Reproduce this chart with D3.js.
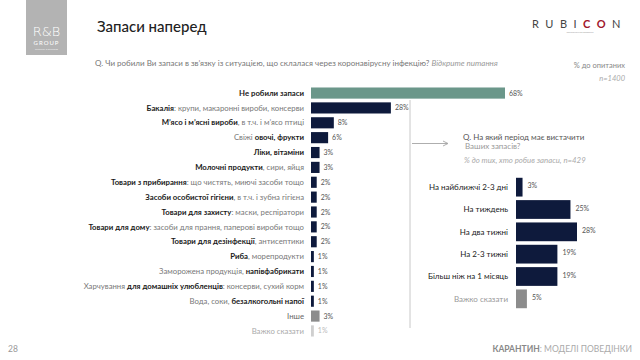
<!DOCTYPE html>
<html><head><meta charset="utf-8">
<script src="https://cdn.jsdelivr.net/npm/d3@7"></script>
<style>
body{margin:0;background:#fff;}
svg{font-family:Lato,"Open Sans",sans-serif;}
</style></head>
<body>
<svg id="c" width="640" height="360"></svg>
<script>
// Left chart: segments separated by "|"; "*" prefix marks a bold segment
const leftCategories = [
  "*Не робили запаси",
  "*Бакалія|: крупи, макаронні вироби, консерви",
  "*М’ясо і м’ясні вироби|, в т.ч. і м’ясо птиці",
  "Свіжі |*овочі, фрукти",
  "*Ліки, вітаміни",
  "*Молочні продукти|, сири, яйця",
  "*Товари з прибирання|: що чистять, миючі засоби тощо",
  "*Засоби особистої гігієни|, в т.ч. і зубна гігієна",
  "*Товари для захисту|: маски, респіратори",
  "*Товари для дому|: засоби для прання, паперові вироби тощо",
  "*Товари для дезінфекції|, антисептики",
  "*Риба|, морепродукти",
  "Заморожена продукція, |*напівфабрикати",
  "Харчування |*для домашніх улюбленців|: консерви, сухий корм",
  "Вода, соки, |*безалкогольні напої",
  "Інше",
  "Важко сказати"
];
const leftValues = [68, 28, 8, 6, 3, 3, 2, 2, 2, 2, 2, 1, 1, 1, 1, 3, 1];
const leftTypes  = ["none","main","main","main","main","main","main","main","main","main","main","main","main","main","main","other","dk"];

const rightCategories = ["На найближчі 2-3 дні","На тиждень","На два тижні","На 2-3 тижні","Більш ніж на 1 місяць","Важко сказати"];
const rightValues = [3, 25, 28, 19, 19, 5];
const rightTypes  = ["main","main","main","main","main","dk"];

const colors = {none:"#6b978a", main:"#0e1a3c", other:"#8c8c8c", dk:"#cfcfcf"};

const svg = d3.select("#c");

// Header
svg.append("rect").attr("x",26).attr("y",0).attr("width",41).attr("height",55).attr("fill","#b3b3b3");
svg.append("text").attr("x",46.5).attr("y",36).attr("text-anchor","middle").attr("fill","#fff")
  .attr("font-size",13).attr("font-family","DejaVu Sans").attr("font-weight","300").text("R&B");
svg.append("text").attr("x",46.5).attr("y",45).attr("text-anchor","middle").attr("fill","#fff")
  .attr("font-size",6).attr("letter-spacing",1).text("GROUP");
svg.append("text").attr("x",46.5).attr("y",50).attr("text-anchor","middle").attr("fill","#eee")
  .attr("font-size",2.5).text("Research & Branding");

svg.append("text").attr("x",97).attr("y",32).attr("font-size",15).attr("fill","#222").attr("font-weight","500").text("Запаси наперед");

const rub = svg.append("text").attr("x",627).attr("y",28).attr("text-anchor","end").attr("font-size",11).attr("letter-spacing",6.5).attr("fill","#444");
rub.append("tspan").text("RUBI");
rub.append("tspan").attr("fill","#a0152b").attr("font-weight","bold").text("CO");
rub.append("tspan").text("N");
svg.append("text").attr("x",580).attr("y",33).attr("text-anchor","middle").attr("font-size",2.5).attr("fill","#999").text("дослідницька компанія");

const sub = svg.append("text").attr("x",95).attr("y",66).attr("font-size",8).attr("fill","#777");
sub.append("tspan").text("Q. Чи робили Ви запаси в зв’язку із ситуацією, що склалася через коронавірусну інфекцію? ");
sub.append("tspan").attr("font-style","italic").attr("fill","#999").text("Відкрите питання");

svg.append("text").attr("x",625).attr("y",68).attr("text-anchor","end").attr("font-size",7.5).attr("fill","#888").text("% до опитаних");
svg.append("text").attr("x",625).attr("y",81).attr("text-anchor","end").attr("font-size",7.5).attr("font-style","italic").attr("fill","#aaa").text("n=1400");

// Left chart
const xL = d3.scaleLinear().domain([0,68]).range([311,505]);
const yL = d3.scaleBand().domain(d3.range(leftCategories.length)).range([86,338]).paddingInner(0.25).paddingOuter(0.1);

const gL = svg.append("g");
gL.selectAll("rect").data(leftValues).join("rect")
  .attr("x",xL(0)).attr("y",(d,i)=>yL(i)).attr("width",d=>xL(d)-xL(0)).attr("height",yL.bandwidth())
  .attr("fill",(d,i)=>colors[leftTypes[i]]);
gL.selectAll("text.v").data(leftValues).join("text").attr("class","v")
  .attr("x",d=>xL(d)+4).attr("y",(d,i)=>yL(i)+yL.bandwidth()/2+2.5)
  .attr("font-size",7).attr("fill",(d,i)=>leftTypes[i]==="dk"?"#bbb":"#555").text(d=>d+"%");

leftCategories.forEach((c,i)=>{
  const t = gL.append("text").attr("x",304).attr("y",yL(i)+yL.bandwidth()/2+2.7).attr("text-anchor","end").attr("font-size",7.75);
  c.split("|").forEach(seg=>{
    const bold = seg.startsWith("*");
    const s = bold?seg.slice(1):seg;
    t.append("tspan").text(s).attr("font-weight",bold?"bold":"normal")
      .attr("fill", leftTypes[i]==="dk" ? "#aaa" : (bold ? "#1a1a1a" : "#777"));
  });
  if(leftTypes[i]==="other") t.selectAll("tspan").attr("fill","#666");
});

// Separator & arrow
svg.append("line").attr("x1",410).attr("x2",410).attr("y1",100).attr("y2",328).attr("stroke","#c8c8c8").attr("stroke-width",1);
svg.append("line").attr("x1",412).attr("x2",447).attr("y1",143.5).attr("y2",143.5).attr("stroke","#999").attr("stroke-width",0.8);
svg.append("path").attr("d","M443,141 L448,143.5 L443,146").attr("fill","none").attr("stroke","#999").attr("stroke-width",0.8);

svg.append("text").attr("x",463).attr("y",140).attr("font-size",8).attr("fill","#555").text("Q. На який період має вистачити");
svg.append("text").attr("x",465).attr("y",149).attr("font-size",8).attr("fill","#999").text("Ваших запасів?");
svg.append("text").attr("x",464).attr("y",163).attr("font-size",7.8).attr("font-style","italic").attr("fill","#aaa").text("% до тих, хто робив запаси, n=429");

// Right chart
const xR = d3.scaleLinear().domain([0,28]).range([516,577]);
const yR = d3.scaleBand().domain(d3.range(rightCategories.length)).range([176,310]).paddingInner(0.16).paddingOuter(0.08);
const gR = svg.append("g");
gR.selectAll("rect").data(rightValues).join("rect")
  .attr("x",xR(0)).attr("y",(d,i)=>yR(i)).attr("width",d=>xR(d)-xR(0)).attr("height",yR.bandwidth())
  .attr("fill",(d,i)=>rightTypes[i]==="dk"?"#8c8c8c":colors.main);
gR.selectAll("text.v").data(rightValues).join("text").attr("class","v")
  .attr("x",d=>xR(d)+5).attr("y",(d,i)=>yR(i)+yR.bandwidth()/2+1)
  .attr("font-size",7).attr("fill","#555").text(d=>d+"%");
gR.selectAll("text.l").data(rightCategories).join("text").attr("class","l")
  .attr("x",508).attr("y",(d,i)=>yR(i)+yR.bandwidth()/2+2.8).attr("text-anchor","end")
  .attr("font-size",8).attr("fill",(d,i)=>rightTypes[i]==="dk"?"#999":"#222").text(d=>d);

// Footer
svg.append("text").attr("x",8).attr("y",352).attr("font-size",8.5).attr("fill","#999").text("28");
const ft = svg.append("text").attr("x",632).attr("y",352).attr("text-anchor","end").attr("font-size",8.5);
ft.append("tspan").attr("font-weight","bold").attr("fill","#888").text("КАРАНТИН");
ft.append("tspan").attr("fill","#aaa").text(": МОДЕЛІ ПОВЕДІНКИ");
</script>
</body></html>
